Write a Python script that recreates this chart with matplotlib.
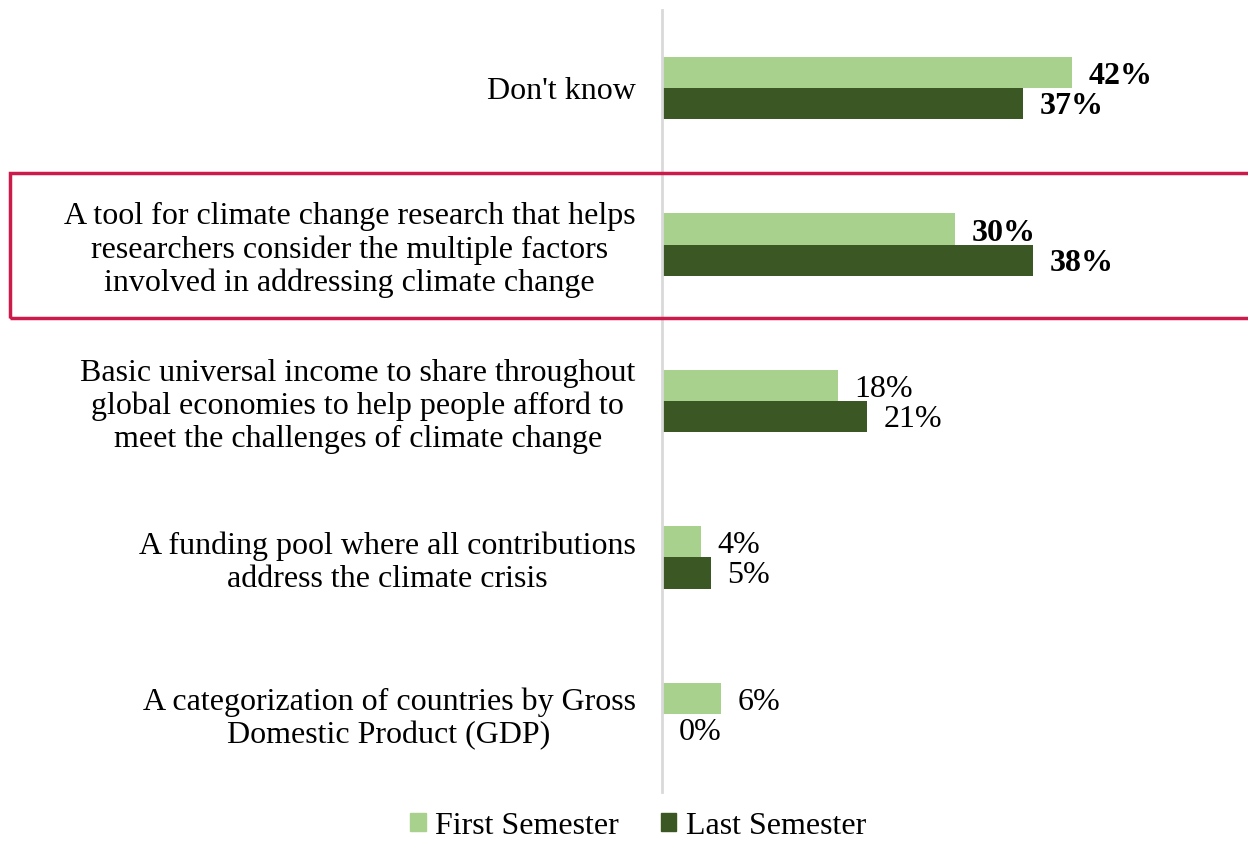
import matplotlib.pyplot as plt
from matplotlib.patches import Patch, Rectangle

categories = [
    "Don't know",
    "A tool for climate change research that helps\nresearchers consider the multiple factors\ninvolved in addressing climate change",
    "Basic universal income to share throughout\nglobal economies to help people afford to\nmeet the challenges of climate change",
    "A funding pool where all contributions\naddress the climate crisis",
    "A categorization of countries by Gross\nDomestic Product (GDP)",
]
first_semester = [42, 30, 18, 4, 6]
last_semester = [37, 38, 21, 5, 0]
bold_rows = [0, 1]

light = '#A9D18E'
dark = '#3B5724'
plt.rcParams['font.family'] = ['Liberation Serif', 'DejaVu Serif']
fs = 23

fig = plt.figure(figsize=(12.48, 8.42), dpi=100)
ax = fig.add_axes([662 / 1248, 50 / 842, 1 - 662 / 1248, 782 / 842])

h = 0.2
ys = list(range(len(categories)))
ax.barh([y - h / 2 for y in ys], first_semester, height=h, color=light)
ax.barh([y + h / 2 for y in ys], last_semester, height=h, color=dark)

for i, (a, b) in enumerate(zip(first_semester, last_semester)):
    w = 'bold' if i in bold_rows else 'normal'
    ax.annotate(f"{a}%", (a, i - h / 2), xytext=(12, -3), textcoords='offset points',
                va='center', ha='left', fontsize=fs, fontweight=w)
    ax.annotate(f"{b}%", (b, i + h / 2), xytext=(12, -2), textcoords='offset points',
                va='center', ha='left', fontsize=fs, fontweight=w)

ax.set_xlim(0, 60)
ax.set_ylim(len(categories) - 0.5, -0.5)
ax.set_yticks(ys)
ax.set_yticklabels(categories, fontsize=fs, multialignment='center', linespacing=1.18)
ax.tick_params(axis='y', length=0, pad=19)
ax.set_xticks([])
for s in ['top', 'right', 'bottom']:
    ax.spines[s].set_visible(False)
ax.spines['left'].set_color('#D9D9D9')
ax.spines['left'].set_linewidth(2)

# highlight box around the second category
fig.patches.append(Rectangle((10 / 1248, 1 - 318 / 842), 1240 / 1248, 145 / 842,
                             transform=fig.transFigure, fill=False,
                             edgecolor='#CC1A4A', linewidth=2.5))

handles = [Patch(color=light, label='First Semester'), Patch(color=dark, label='Last Semester')]
fig.legend(handles=handles, loc='center', bbox_to_anchor=(638 / 1248, 1 - 826 / 842), ncol=2,
           frameon=False, fontsize=fs, handlelength=0.5, handleheight=0.5,
           handletextpad=0.3, columnspacing=1.3, borderpad=0.1)

fig.savefig('out.png', dpi=100)
